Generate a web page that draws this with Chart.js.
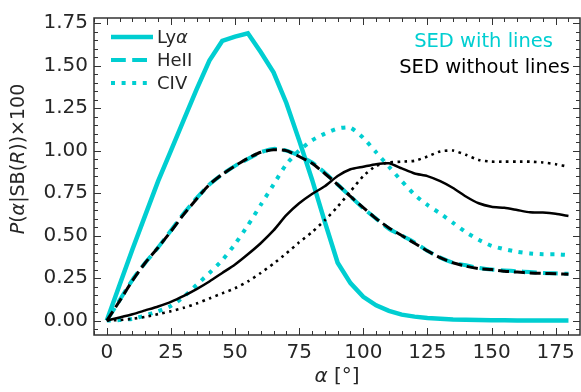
<!DOCTYPE html>
<html>
<head>
<meta charset="utf-8">
<script src="https://cdn.jsdelivr.net/npm/chart.js@4"></script>
<style>
  html, body { margin: 0; padding: 0; background: #fff; }
  #wrap { width: 581px; height: 392px; position: relative; }
</style>
</head>
<body>
<div id="wrap"><canvas id="chart"></canvas></div>
<script>
// Angles (degrees)
const alpha = [0, 5, 10, 15, 20, 25, 30, 35, 40, 45, 50, 55, 60, 65, 70, 75, 80, 85, 90,
    95, 100, 105, 110, 115, 120, 125, 130, 135, 140, 145, 150, 155, 160, 165, 170, 175, 180];

// SED with lines
const lyaWith = [0, 0.21, 0.42, 0.62, 0.82, 1.00, 1.18, 1.36, 1.53, 1.645, 1.67, 1.69, 1.58, 1.46,
    1.28, 1.06, 0.83, 0.58, 0.34, 0.22, 0.14, 0.09, 0.057, 0.035, 0.023, 0.015, 0.01, 0.006,
    0.004, 0.003, 0.002, 0.002, 0.001, 0.001, 0.001, 0.001, 0.001];
const heWith = [0, 0.12, 0.24, 0.34, 0.43, 0.53, 0.63, 0.72, 0.80, 0.86, 0.91, 0.95, 0.99, 1.01,
    1.00, 0.97, 0.93, 0.87, 0.80, 0.73, 0.66, 0.60, 0.54, 0.50, 0.46, 0.41, 0.37, 0.34, 0.325,
    0.31, 0.30, 0.295, 0.29, 0.285, 0.28, 0.278, 0.275];
const civWith = [0, 0.003, 0.01, 0.03, 0.055, 0.086, 0.14, 0.21, 0.28, 0.355, 0.45, 0.56, 0.68,
    0.80, 0.92, 1.0, 1.06, 1.10, 1.13, 1.135, 1.075, 0.99, 0.905, 0.82, 0.74, 0.68, 0.63, 0.575,
    0.52, 0.475, 0.44, 0.42, 0.405, 0.395, 0.39, 0.39, 0.385];

// SED without lines
const lyaWithout = [0, 0.018, 0.037, 0.06, 0.083, 0.11, 0.145, 0.185, 0.23, 0.28, 0.33, 0.39,
    0.455, 0.53, 0.62, 0.69, 0.745, 0.79, 0.85, 0.89, 0.905, 0.92, 0.925, 0.895, 0.865, 0.85,
    0.82, 0.78, 0.73, 0.69, 0.67, 0.663, 0.65, 0.637, 0.635, 0.628, 0.615];
const heWithout = [0, 0.115, 0.235, 0.34, 0.43, 0.525, 0.625, 0.715, 0.80, 0.86, 0.91, 0.955,
    0.99, 1.005, 1.0, 0.965, 0.925, 0.865, 0.80, 0.73, 0.665, 0.60, 0.545, 0.50, 0.455, 0.41,
    0.37, 0.34, 0.32, 0.305, 0.30, 0.29, 0.285, 0.28, 0.278, 0.275, 0.272];
const civWithout = [0, 0.003, 0.01, 0.022, 0.038, 0.055, 0.075, 0.1, 0.13, 0.16, 0.19, 0.23,
    0.28, 0.335, 0.395, 0.46, 0.52, 0.59, 0.67, 0.76, 0.85, 0.91, 0.93, 0.935, 0.94, 0.965,
    0.995, 1.0, 0.975, 0.945, 0.935, 0.935, 0.935, 0.935, 0.93, 0.92, 0.905];

// Ticks and labels
const xTicks = [0, 25, 50, 75, 100, 125, 150, 175];
const yTicks = [0, 0.25, 0.5, 0.75, 1.0, 1.25, 1.5, 1.75];
const lineNames = ['Lyα', 'HeII', 'CIV'];
const sedLabels = ['SED with lines', 'SED without lines'];

const CYAN = '#00ced1';
const BLACK = '#000000';
const TEXT = '#262626';
const FONT = '"DejaVu Sans", sans-serif';

const styles = {
    solid: { cyan: { w: 4.5, dash: [] }, black: { w: 2.5, dash: [] } },
    dashed: { cyan: { w: 4, dash: [14.8, 6.4] }, black: { w: 3, dash: [11, 4.8] } },
    dotted: { cyan: { w: 4, dash: [4, 6.6] }, black: { w: 2.6, dash: [2.6, 4.4] } },
};

function ds(data, color, st, order, tension) {
    return {
        data: alpha.map((a, i) => ({ x: a, y: data[i] })),
        borderColor: color,
        borderWidth: st.w,
        borderDash: st.dash,
        borderCapStyle: 'butt',
        pointRadius: 0,
        tension: tension,
        order: order,
        fill: false,
    };
}

// draw a string made of [text, italic] pieces, centred at x
function drawParts(ctx, parts, cx, cy, size) {
    let total = 0;
    parts.forEach(p => {
        ctx.font = (p[1] ? 'italic ' : '') + size + 'px ' + FONT;
        total += ctx.measureText(p[0]).width;
    });
    let x = cx - total / 2;
    parts.forEach(p => {
        ctx.font = (p[1] ? 'italic ' : '') + size + 'px ' + FONT;
        ctx.fillText(p[0], x, cy);
        x += ctx.measureText(p[0]).width;
    });
}

const decorations = {
    id: 'decorations',
    afterDraw(chart) {
        const ctx = chart.ctx;
        const a = chart.chartArea;
        const xs = chart.scales.x, ys = chart.scales.y;
        ctx.save();

        // frame
        ctx.strokeStyle = '#333';
        ctx.lineWidth = 1.5;
        ctx.strokeRect(a.left, a.top, a.right - a.left, a.bottom - a.top);

        // inward ticks on all sides
        ctx.lineWidth = 1;
        ctx.beginPath();
        for (let v = -5; v <= xs.max; v += 5) {
            const px = Math.round(xs.getPixelForValue(v)) + 0.5;
            const len = (v % 25 === 0) ? 7 : 4;
            ctx.moveTo(px, a.bottom); ctx.lineTo(px, a.bottom - len);
            ctx.moveTo(px, a.top); ctx.lineTo(px, a.top + len);
        }
        for (let k = -1; k <= 35; k++) {
            const v = k * 0.05;
            const py = Math.round(ys.getPixelForValue(v)) + 0.5;
            const len = (k % 5 === 0) ? 7 : 4;
            ctx.moveTo(a.left, py); ctx.lineTo(a.left + len, py);
            ctx.moveTo(a.right, py); ctx.lineTo(a.right - len, py);
        }
        ctx.stroke();

        // legend
        const keys = ['solid', 'dashed', 'dotted'];
        const rows = [37, 60, 83];
        ctx.textBaseline = 'middle';
        keys.forEach((k, i) => {
            const st = styles[k].cyan;
            ctx.strokeStyle = CYAN;
            ctx.lineWidth = st.w;
            ctx.setLineDash(st.dash);
            ctx.beginPath();
            ctx.moveTo(111, rows[i]);
            ctx.lineTo(153, rows[i]);
            ctx.stroke();
        });
        ctx.setLineDash([]);
        ctx.fillStyle = TEXT;
        ctx.textAlign = 'left';
        ctx.font = '18px ' + FONT;
        ctx.fillText('Ly', 157, rows[0] + 1);
        const lyW = ctx.measureText('Ly').width;
        ctx.font = 'italic 18px ' + FONT;
        ctx.fillText(lineNames[0].slice(2), 157 + lyW, rows[0] + 1);
        ctx.font = '18px ' + FONT;
        ctx.fillText(lineNames[1], 157, rows[1] + 1);
        ctx.fillText(lineNames[2], 157, rows[2] + 1);

        // SED labels
        ctx.font = '19.5px ' + FONT;
        ctx.textAlign = 'right';
        ctx.fillStyle = CYAN;
        ctx.fillText(sedLabels[0], 553, 42);
        ctx.fillStyle = BLACK;
        ctx.fillText(sedLabels[1], 570, 68);

        // axis titles
        ctx.fillStyle = TEXT;
        ctx.textAlign = 'left';
        drawParts(ctx, [['α', true], [' [°]', false]], (a.left + a.right) / 2, 377, 20);
        ctx.translate(19, 159);
        ctx.rotate(-Math.PI / 2);
        drawParts(ctx, [['P', true], ['(', false], ['α', true], ['|SB(', false], ['R', true], ['))×100', false]], 0, 0, 19);
        ctx.restore();
    }
};

new Chart(document.getElementById('chart'), {
    type: 'line',
    data: {
        datasets: [
            ds(lyaWith, CYAN, styles.solid.cyan, 3, 0),
            ds(heWith, CYAN, styles.dashed.cyan, 3, 0.2),
            ds(civWith, CYAN, styles.dotted.cyan, 3, 0.2),
            ds(lyaWithout, BLACK, styles.solid.black, 1, 0.2),
            ds(heWithout, BLACK, styles.dashed.black, 1, 0.2),
            ds(civWithout, BLACK, styles.dotted.black, 1, 0.2),
        ]
    },
    options: {
        responsive: true,
        maintainAspectRatio: false,
        animation: false,
        layout: { padding: { top: 10, right: 1, left: 0, bottom: 0 } },
        plugins: {
            legend: { display: false },
            tooltip: { enabled: false },
        },
        scales: {
            x: {
                type: 'linear',
                min: -5,
                max: 184.5,
                grid: { display: false, drawTicks: false },
                border: { display: false },
                afterBuildTicks: s => { s.ticks = xTicks.map(v => ({ value: v })); },
                afterFit: s => { s.height = 57; },
                ticks: {
                    color: TEXT,
                    font: { family: FONT, size: 20 },
                    padding: 6,
                    maxRotation: 0,
                    autoSkip: false,
                    callback: v => String(v),
                },
            },
            y: {
                min: -0.085,
                max: 1.78,
                grid: { display: false, drawTicks: false },
                border: { display: false },
                afterBuildTicks: s => { s.ticks = yTicks.map(v => ({ value: v })); },
                afterFit: s => { s.width = 94; },
                ticks: {
                    color: TEXT,
                    font: { family: FONT, size: 20 },
                    padding: 6,
                    callback: v => v.toFixed(2),
                },
            },
        },
    },
    plugins: [decorations],
});
</script>
</body>
</html>
